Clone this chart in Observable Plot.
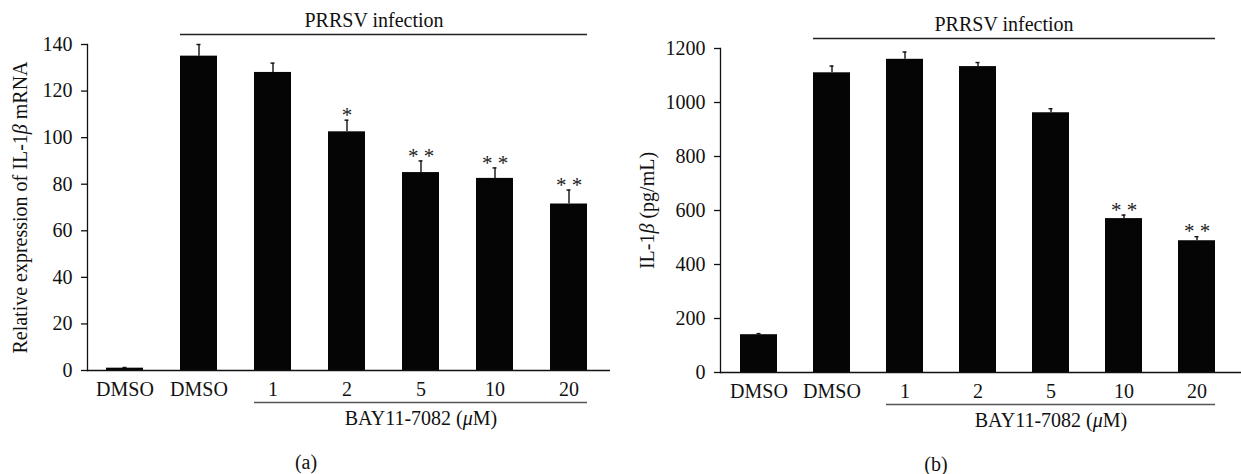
<!DOCTYPE html>
<html>
<head>
<meta charset="utf-8">
<script src="https://cdn.jsdelivr.net/npm/d3@7"></script>
<script src="https://cdn.jsdelivr.net/npm/@observablehq/plot@0.6"></script>
<style>
  body { margin: 0; background: #fff; }
  #wrap { display: flex; width: 1241px; height: 474px; background: #fff; }
  #wrap svg { display: block; }
</style>
</head>
<body>
<div id="wrap"></div>
<script>
// ---- Data ----
const categories = ["DMSO-mock", "DMSO", "1", "2", "5", "10", "20"];
const tickLabels = ["DMSO", "DMSO", "1", "2", "5", "10", "20"];

const meanA = [1, 135, 128, 102.5, 85, 82.5, 71.5];
const errA  = [0.3, 5, 4, 5, 5, 4.5, 6];
const starsA = ["", "", "", "*", "* *", "* *", "* *"];
const yTicksA = [0, 20, 40, 60, 80, 100, 120, 140];

const meanB = [140, 1110, 1160, 1133, 962, 570, 488];
const errB  = [4, 25, 27, 15, 15, 13, 15];
const starsB = ["", "", "", "", "", "* *", "* *"];
const yTicksB = [0, 200, 400, 600, 800, 1000, 1200];

const yLabelA = "Relative expression of IL-1β mRNA";
const yLabelB = "IL-1β (pg/mL)";
const groupLabel = "PRRSV infection";
const drugLabel = "BAY11-7082 (μM)";
const panelTags = ["(a)", "(b)"];

const FONT = "'Liberation Serif', 'Times New Roman', serif";

function italicGreek(svg) {
  d3.select(svg).selectAll("text").each(function () {
    const t = this.textContent;
    if (!/[βμ]/.test(t) || this.querySelector("tspan")) return;
    const parts = t.split(/([βμ])/);
    this.textContent = "";
    for (const p of parts) {
      if (!p) continue;
      const ts = d3.select(this).append("tspan").text(p);
      if (/[βμ]/.test(p)) ts.attr("font-style", "italic");
    }
  });
}

function panel({means, errs, stars, yTicks, yMax, yLabel, tag, width, mLeft, mRight, mTop, mBottom, xRange, yLabelDx, tagDx, textDx}) {
  const rows = categories.map((c, i) => ({cat: c, label: tickLabels[i], v: means[i], e: errs[i], hi: means[i] + errs[i], s: stars[i]}));
  const labelOf = Object.fromEntries(categories.map((c, i) => [c, tickLabels[i]]));
  const svg = Plot.plot({
    width, height: 474,
    marginLeft: mLeft, marginRight: mRight, marginTop: mTop, marginBottom: mBottom,
    style: {fontFamily: FONT, fontSize: "20px", color: "#111", background: "#fff", overflow: "visible"},
    x: {domain: categories, range: xRange, paddingInner: 0.5, paddingOuter: 0.25, axis: null},
    y: {domain: [0, yMax], axis: null},
    marks: [
      Plot.barY(rows, {x: "cat", y: "v", fill: "#050505"}),
      Plot.ruleX(rows, {x: "cat", y1: "v", y2: "hi", stroke: "#111", strokeWidth: 1.4}),
      Plot.tickY(rows, {x: "cat", y: "hi", stroke: "#111", strokeWidth: 1.4, insetLeft: 16.5, insetRight: 16.5}),
      Plot.text(rows.filter(d => d.s), {x: "cat", y: "hi", text: "s", dy: -5, fontSize: 21, fill: "#222"}),
      Plot.frame({anchor: "left", stroke: "#111", strokeWidth: 1.3}),
      Plot.ruleY([0], {stroke: "#111", strokeWidth: 1.3}),
      Plot.axisY({ticks: yTicks, tickSize: 6, tickPadding: 9, label: null, stroke: "#111", strokeWidth: 1.3, fontSize: 20, tickFormat: d => String(d)}),
      Plot.axisX({tickSize: 0, tickPadding: 11, label: null, tickFormat: d => labelOf[d], fontSize: 20}),
      // PRRSV infection bracket
      Plot.ruleY([yMax], {x1: () => categories[1], x2: () => categories[6], dy: -10, stroke: "#222", strokeWidth: 1.4}),
      Plot.text([groupLabel], {x: () => categories[3], y: () => yMax, text: d => d, dx: textDx, dy: -24, fontSize: 20}),
      // BAY underline
      Plot.ruleY([0], {x1: () => categories[2], x2: () => categories[6], dy: 32, stroke: "#555", strokeWidth: 1.7}),
      Plot.text([drugLabel], {x: () => categories[4], y: () => 0, text: d => d, dy: 48, fontSize: 20}),
      Plot.text([tag], {x: () => categories[3], y: () => 0, text: d => d, dx: tagDx, dy: 92, fontSize: 20}),
      Plot.text([yLabel], {frameAnchor: "left", textAnchor: "middle", rotate: -90, text: d => d, dx: yLabelDx, fontSize: 20})
    ]
  });
  italicGreek(svg);
  return svg;
}

const wrap = document.getElementById("wrap");
wrap.appendChild(panel({
  means: meanA, errs: errA, stars: starsA, yTicks: yTicksA, yMax: 140, yLabel: yLabelA, tag: panelTags[0],
  width: 620, mLeft: 87, mRight: 10, mTop: 44, mBottom: 104, xRange: [87, 605], yLabelDx: -67, tagDx: -41, textDx: 27
}));
wrap.appendChild(panel({
  means: meanB, errs: errB, stars: starsB, yTicks: yTicksB, yMax: 1200, yLabel: yLabelB, tag: panelTags[1],
  width: 621, mLeft: 100, mRight: 0, mTop: 48, mBottom: 102, xRange: [100, 614], yLabelDx: -73, tagDx: -42, textDx: 26
}));
</script>
</body>
</html>
